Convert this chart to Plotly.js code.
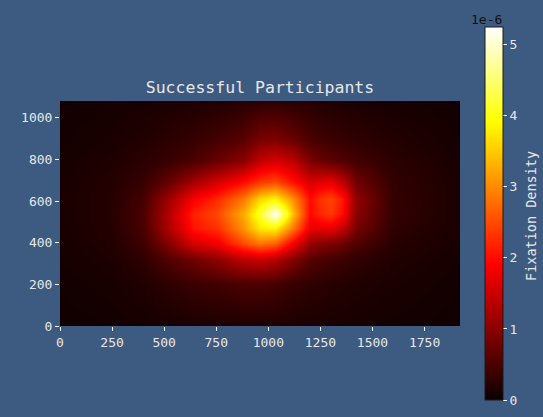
<!DOCTYPE html>
<html><head><meta charset="utf-8">
<script src="https://cdn.plot.ly/plotly-3.0.1.min.js"></script>
<style>html,body{margin:0;padding:0;background:#3d5a80;}</style>
</head><body><div id="chart" style="width:543px;height:417px;"></div>
<script>
// Estimated fixation-density grid (units of 1e-6)
const xPositions = [0, 240, 400, 520, 640, 760, 880, 960, 1030, 1120, 1200, 1250, 1300, 1360, 1420, 1600, 1920];
const yPositions = [0, 200, 320, 400, 470, 540, 610, 690, 790, 900, 1080];
const densityRows = [
  [0.04, 0.06, 0.08, 0.10, 0.12, 0.14, 0.15, 0.15, 0.15, 0.14, 0.12, 0.12, 0.11, 0.10, 0.09, 0.07, 0.04],
  [0.06, 0.10, 0.17, 0.27, 0.37, 0.42, 0.50, 0.50, 0.45, 0.35, 0.28, 0.25, 0.22, 0.20, 0.17, 0.12, 0.06],
  [0.08, 0.14, 0.28, 0.55, 0.80, 1.05, 1.40, 1.50, 1.35, 0.95, 0.60, 0.52, 0.45, 0.38, 0.30, 0.17, 0.08],
  [0.09, 0.17, 0.40, 0.95, 1.60, 1.85, 2.50, 2.85, 2.70, 1.85, 1.10, 1.00, 0.90, 0.75, 0.55, 0.22, 0.10],
  [0.10, 0.19, 0.48, 1.25, 2.05, 2.30, 3.05, 3.75, 3.85, 2.85, 1.75, 1.75, 1.75, 1.45, 0.85, 0.28, 0.11],
  [0.11, 0.20, 0.50, 1.30, 2.15, 2.50, 3.25, 4.15, 5.25, 3.40, 1.95, 2.20, 2.35, 1.95, 1.00, 0.32, 0.12],
  [0.11, 0.20, 0.45, 1.15, 1.85, 2.25, 2.85, 3.60, 3.85, 3.05, 2.00, 2.30, 2.45, 2.05, 1.05, 0.33, 0.12],
  [0.10, 0.18, 0.35, 0.70, 1.20, 1.60, 2.00, 2.35, 2.50, 2.05, 1.60, 1.70, 1.75, 1.40, 0.80, 0.30, 0.12],
  [0.09, 0.15, 0.25, 0.35, 0.50, 0.75, 1.00, 1.45, 1.60, 1.40, 0.90, 0.75, 0.65, 0.55, 0.45, 0.25, 0.10],
  [0.07, 0.12, 0.18, 0.25, 0.33, 0.45, 0.60, 0.85, 0.90, 0.72, 0.50, 0.42, 0.37, 0.32, 0.28, 0.18, 0.08],
  [0.05, 0.08, 0.10, 0.12, 0.14, 0.17, 0.22, 0.26, 0.27, 0.24, 0.20, 0.18, 0.16, 0.14, 0.12, 0.09, 0.05]
];
const xTickVals = [0, 250, 500, 750, 1000, 1250, 1500, 1750];
const yTickVals = [0, 200, 400, 600, 800, 1000];
const colorbarTicks = [0, 1, 2, 3, 4, 5];
const chartTitle = 'Successful Participants';
const colorbarLabel = 'Fixation Density';
const offsetLabel = '1e-6';

const MONO = '"DejaVu Sans Mono", monospace';
const TXT = '#e8e8e8';
const BG = '#3d5a80';
const hot = [[0, 'rgb(11,0,0)'], [0.365, 'rgb(255,0,0)'], [0.746, 'rgb(255,255,0)'], [1, 'rgb(255,255,255)']];

const trace = {
  type: 'heatmap',
  x: xPositions, y: yPositions, z: densityRows,
  zsmooth: 'best', zmin: 0, zmax: 5.25,
  colorscale: hot, hoverinfo: 'skip',
  colorbar: {
    x: (485 - 60) / 400, xanchor: 'left',
    y: (326 - 400) / 225, yanchor: 'bottom',
    lenmode: 'pixels', len: 373,
    thickness: 18, thicknessmode: 'pixels',
    outlinewidth: 1, outlinecolor: '#1a1a1a',
    xpad: 0, ypad: 0,
    tickmode: 'array', tickvals: colorbarTicks,
    ticks: 'outside', ticklen: 4, tickwidth: 1, tickcolor: '#ffffff',
    tickfont: {family: MONO, size: 13, color: TXT},
    bgcolor: 'rgba(0,0,0,0)', borderwidth: 0
  }
};

const axisCommon = {
  showgrid: false, zeroline: false, showline: false,
  ticks: 'outside', ticklen: 4, tickwidth: 1, tickcolor: '#ffffff',
  tickfont: {family: MONO, size: 13, color: TXT},
  tickmode: 'array'
};

const layout = {
  width: 543, height: 417,
  paper_bgcolor: BG, plot_bgcolor: BG,
  margin: {l: 60, r: 83, t: 101, b: 91},
  title: {text: chartTitle, x: 0.5, xref: 'paper', xanchor: 'center',
          y: 1 - 87 / 417, yref: 'container', yanchor: 'middle',
          font: {family: MONO, size: 16.5, color: TXT}},
  xaxis: Object.assign({}, axisCommon, {range: [0, 1920], tickvals: xTickVals}),
  yaxis: Object.assign({}, axisCommon, {range: [0, 1080], tickvals: yTickVals}),
  annotations: [
    {text: offsetLabel, xref: 'paper', yref: 'paper', x: (486 - 60) / 400, y: (326 - 19) / 225,
     xanchor: 'center', yanchor: 'middle', showarrow: false,
     font: {family: MONO, size: 13, color: '#111111'}},
    {text: colorbarLabel, xref: 'paper', yref: 'paper', x: (531 - 60) / 400, y: (326 - 216) / 225,
     xanchor: 'center', yanchor: 'middle', showarrow: false, textangle: -90,
     font: {family: MONO, size: 13.5, color: TXT}}
  ]
};

Plotly.newPlot('chart', [trace], layout, {displayModeBar: false, staticPlot: true});
</script>
</body></html>
